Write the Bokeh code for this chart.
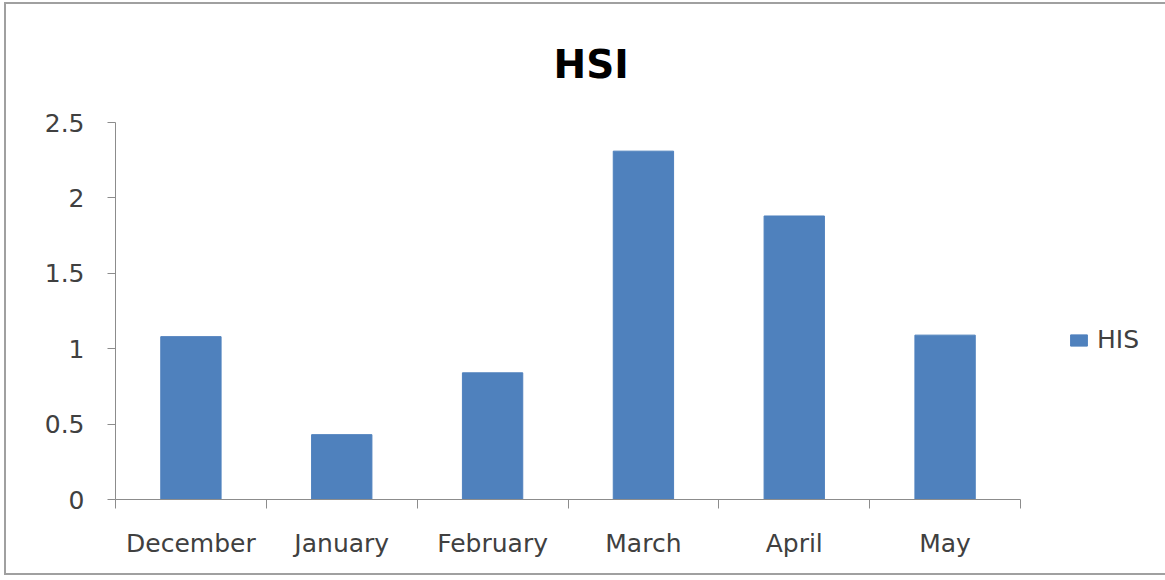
from bokeh.plotting import figure
from bokeh.models import ColumnDataSource, FixedTicker, Legend, LegendItem
from bokeh.embed import file_html
from bokeh.resources import INLINE

categories = ["December", "January", "February", "March", "April", "May"]
his_values = [1.08, 0.43, 0.84, 2.31, 1.88, 1.09]
y_ticks = [0, 0.5, 1, 1.5, 2, 2.5]
series_name = "HIS"
title_text = "HSI"

positions = [i + 0.5 for i in range(len(categories))]
src = ColumnDataSource(dict(x=positions, top=his_values, cat=categories))

FONT = "DejaVu Sans"
LABEL_COLOR = "#404040"
AXIS_COLOR = "#8c8c8c"

p = figure(
    frame_width=905, frame_height=377,
    x_range=(0, len(categories)), y_range=(0, 2.5),
    min_border_left=109, min_border_top=111, min_border_right=141, min_border_bottom=74,
    output_backend="svg", toolbar_location=None,
    title=title_text,
)
p.styles = {"border": "2px solid #a0a0a0", "margin-left": "4px", "margin-top": "2px"}
p.outline_line_color = None
p.grid.visible = False
p.background_fill_color = "white"
p.border_fill_color = "white"

p.title.align = "left"
p.title.text_font = FONT
p.title.text_font_size = "39px"
p.title.text_font_style = "bold"
p.title.text_color = "black"
p.title.offset = 438
p.title.standoff = 71

r = p.vbar(x="x", top="top", width=0.4, source=src, fill_color="#4F81BD", line_color="#4F81BD")

# x axis: labels at category centres, tick marks at category boundaries
xa = p.xaxis[0]
xa.ticker = FixedTicker(ticks=positions, minor_ticks=list(range(len(categories) + 1)))
xa.major_label_overrides = {pos: c for pos, c in zip(positions, categories)}
xa.major_tick_line_color = None
xa.major_tick_out = 0
xa.major_tick_in = 0
xa.minor_tick_out = 9
xa.minor_tick_in = 0
xa.minor_tick_line_color = AXIS_COLOR
xa.axis_line_color = AXIS_COLOR
xa.major_label_text_font = FONT
xa.major_label_text_font_size = "25px"
xa.major_label_text_color = LABEL_COLOR
xa.major_label_standoff = 20

ya = p.yaxis[0]
ya.ticker = FixedTicker(ticks=y_ticks, minor_ticks=[])
ya.major_label_overrides = {0: "0", 0.5: "0.5", 1: "1", 1.5: "1.5", 2: "2", 2.5: "2.5"}
ya.axis_line_color = AXIS_COLOR
ya.major_tick_line_color = AXIS_COLOR
ya.major_tick_out = 8
ya.major_tick_in = 0
ya.minor_tick_line_color = None
ya.major_label_text_font = FONT
ya.major_label_text_font_size = "25px"
ya.major_label_text_color = LABEL_COLOR
ya.major_label_standoff = 23

legend = Legend(items=[LegendItem(label=series_name, renderers=[r])],
                location=(48, 145))
legend.border_line_color = None
legend.background_fill_alpha = 0
legend.padding = 0
legend.margin = 0
legend.glyph_width = 21
legend.glyph_height = 14
legend.label_standoff = 8
legend.label_text_font = FONT
legend.label_text_font_size = "25px"
legend.label_text_color = LABEL_COLOR
p.add_layout(legend, "right")

open("out.html", "w").write(file_html(p, INLINE))
